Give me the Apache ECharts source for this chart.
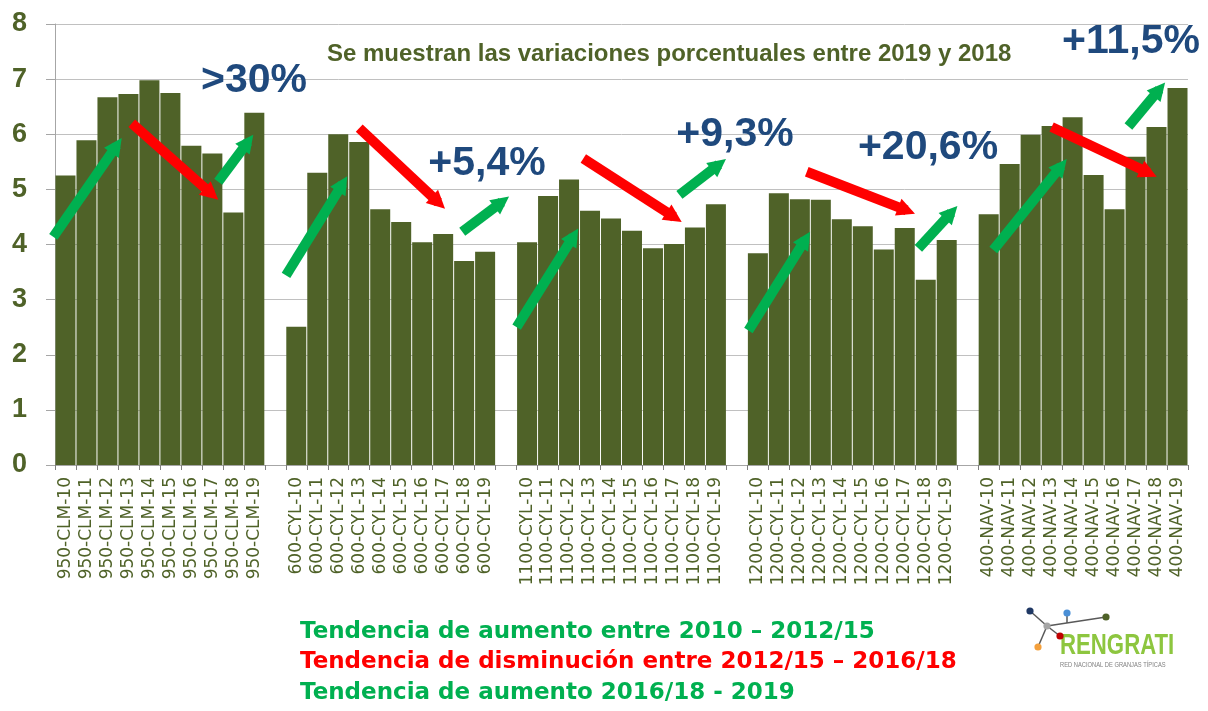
<!DOCTYPE html>
<html>
<head>
<meta charset="utf-8">
<script src="https://cdn.jsdelivr.net/npm/echarts@6.0.0/dist/echarts.min.js"></script>
<style>
  html, body { margin: 0; padding: 0; background: #fff; }
  #chart { width: 1208px; height: 711px; }
</style>
</head>
<body>
<div id="chart"></div>
<script>
// granjas y años
const groups = ['950-CLM', '600-CYL', '1100-CYL', '1200-CYL', '400-NAV'];
const years = ['10', '11', '12', '13', '14', '15', '16', '17', '18', '19'];

// valores
const clm950 = [5.25, 5.89, 6.67, 6.73, 6.98, 6.75, 5.79, 5.65, 4.58, 6.39];
const cyl600 = [2.51, 5.30, 6.00, 5.86, 4.64, 4.41, 4.04, 4.19, 3.70, 3.87];
const cyl1100 = [4.04, 4.88, 5.18, 4.61, 4.47, 4.25, 3.93, 4.01, 4.31, 4.73];
const cyl1200 = [3.84, 4.93, 4.82, 4.81, 4.46, 4.33, 3.91, 4.30, 3.36, 4.08];
const nav400 = [4.55, 5.46, 5.99, 6.15, 6.31, 5.26, 4.64, 5.59, 6.13, 6.84];

const yTicks = [0, 1, 2, 3, 4, 5, 6, 7, 8];

// flechas de tendencia: [x0, y0, x1, y1] en índice de categoría / valor
const greenArrows = [
  [-0.58, 4.14, 2.68, 5.93],
  [7.28, 5.14, 8.95, 5.99],
  [10.51, 3.44, 13.43, 5.24],
  [18.91, 4.23, 21.14, 4.87],
  [21.5, 2.5, 24.44, 4.29],
  [29.26, 4.90, 31.48, 5.55],
  [32.55, 2.44, 35.49, 4.23],
  [40.65, 3.93, 42.51, 4.70],
  [44.22, 3.90, 47.72, 5.55],
  [50.66, 6.14, 52.41, 6.94]
];
const redArrows = [
  [3.16, 6.2, 7.28, 4.81],
  [14.0, 6.11, 18.09, 4.65],
  [24.68, 5.56, 29.37, 4.41],
  [35.33, 5.32, 40.49, 4.56],
  [47.0, 6.13, 52.01, 5.23]
];

const pctLabels = ['>30%', '+5,4%', '+9,3%', '+20,6%', '+11,5%'];

// construir categorías con un hueco entre granjas
const allValues = [clm950, cyl600, cyl1100, cyl1200, nav400];
const categories = [];
const barData = [];
groups.forEach((g, gi) => {
  if (gi > 0) { categories.push(''); barData.push(null); }
  years.forEach((y, yi) => {
    categories.push(g + '-' + y);
    barData.push(allValues[gi][yi]);
  });
});
const nCat = categories.length;

// acortar el final para que la punta del triángulo quede en el extremo
function toLines(list) {
  const pxX = 1133 / nCat, pxY = 55, back = 9;
  return list.map(a => {
    const dx = (a[2] - a[0]) * pxX, dy = (a[3] - a[1]) * pxY;
    const len = Math.sqrt(dx * dx + dy * dy);
    const k = back / len;
    return { coords: [[a[0], a[1]], [a[2] - (a[2] - a[0]) * k, a[3] - (a[3] - a[1]) * k]] };
  });
}

const olive = '#4F6228';
const blue = '#1F497D';
const pctPos = [[254, 81], [487, 164], [735, 135], [928, 148], [1131, 42]];

const chart = echarts.init(document.getElementById('chart'));

const graphics = [];
pctLabels.forEach((t, i) => {
  graphics.push({
    type: 'text', x: pctPos[i][0], y: pctPos[i][1], z: 100,
    style: { text: t, fill: blue, font: 'bold 41px "Liberation Sans", Arial, sans-serif',
      align: 'center', verticalAlign: 'middle', textAlign: 'center', textVerticalAlign: 'middle' }
  });
});
graphics.push({
  type: 'text', x: 327, y: 54, z: 100,
  style: { text: 'Se muestran las variaciones porcentuales entre 2019 y 2018', fill: olive,
    font: 'bold 24px "Liberation Sans", Arial, sans-serif',
    align: 'left', verticalAlign: 'middle', textAlign: 'left', textVerticalAlign: 'middle' }
});
const legendLines = [
  ['Tendencia de aumento entre 2010 \u2013 2012/15', '#00B050', 632],
  ['Tendencia de disminución entre 2012/15 \u2013 2016/18', '#FF0000', 662.5],
  ['Tendencia de aumento 2016/18 - 2019', '#00B050', 693]
];
legendLines.forEach(l => {
  graphics.push({
    type: 'text', x: 300, y: l[2], z: 100,
    style: { text: l[0], fill: l[1], font: 'bold 23px "DejaVu Sans", sans-serif',
      align: 'left', verticalAlign: 'middle', textAlign: 'left', textVerticalAlign: 'middle' }
  });
});

// logo RENGRATI
const logoLines = [
  [1030, 611, 1047, 626], [1047, 626, 1060, 636], [1047, 626, 1038, 647],
  [1047, 626, 1106, 617], [1067, 613, 1067, 623]
];
logoLines.forEach(p => {
  graphics.push({ type: 'line', z: 100, shape: { x1: p[0], y1: p[1], x2: p[2], y2: p[3] },
    style: { stroke: '#595959', lineWidth: 1.5 } });
});
const logoDots = [
  [1030, 611, '#1F3864'], [1067, 613, '#4A8FD6'], [1106, 617, '#4F6228'],
  [1047, 626, '#A6A6A6'], [1060, 636, '#C00000'], [1038, 647, '#F4A03C']
];
logoDots.forEach(d => {
  graphics.push({ type: 'circle', z: 101, shape: { cx: d[0], cy: d[1], r: 3.6 }, style: { fill: d[2] } });
});
graphics.push({
  type: 'text', x: 1060, y: 646, z: 100, scaleX: 0.74,
  style: { text: 'RENGRATI', fill: '#8DC63F', font: 'bold 30px "Liberation Sans", Arial, sans-serif',
    align: 'left', verticalAlign: 'middle', textAlign: 'left', textVerticalAlign: 'middle' }
});
graphics.push({
  type: 'text', x: 1060, y: 665, z: 100, scaleX: 0.72,
  style: { text: 'RED NACIONAL DE GRANJAS TÍPICAS', fill: '#7F7F7F', font: '8px "Liberation Sans", Arial, sans-serif',
    align: 'left', verticalAlign: 'middle', textAlign: 'left', textVerticalAlign: 'middle' }
});

const option = {
  animation: false,
  grid: { left: 55, right: 20, top: 24, bottom: 246, containLabel: false },
  xAxis: [
    {
      type: 'category',
      data: categories,
      axisLine: { lineStyle: { color: '#A6A6A6', width: 1 } },
      axisTick: { show: true, interval: 0, length: 5, lineStyle: { color: '#7F7F7F' } },
      axisLabel: {
        interval: 0, rotate: 90, margin: 12,
        color: olive, fontSize: 17, fontFamily: '"DejaVu Sans", sans-serif'
      },
      splitLine: { show: false }
    },
    {
      type: 'value', min: -0.5, max: nCat - 0.5, show: false
    }
  ],
  yAxis: {
    type: 'value', min: yTicks[0], max: yTicks[yTicks.length - 1], interval: 1,
    axisLine: { show: true, onZero: false, lineStyle: { color: '#A6A6A6' } },
    axisTick: { show: true, length: 9, lineStyle: { color: '#A6A6A6' } },
    axisLabel: {
      margin: 28, color: olive, fontSize: 27, fontWeight: 'bold',
      fontFamily: '"Liberation Sans", Arial, sans-serif'
    },
    splitLine: { lineStyle: { color: '#C0C0C0', width: 1 } }
  },
  series: [
    {
      type: 'bar',
      data: barData,
      barWidth: 20,
      itemStyle: { color: olive },
      silent: true
    },
    {
      type: 'lines', coordinateSystem: 'cartesian2d', xAxisIndex: 1, yAxisIndex: 0,
      data: toLines(greenArrows), clip: false, z: 10,
      symbol: ['none', 'triangle'], symbolSize: [24, 18],
      lineStyle: { color: '#00B050', width: 10, opacity: 1, curveness: 0 },
      silent: true
    },
    {
      type: 'lines', coordinateSystem: 'cartesian2d', xAxisIndex: 1, yAxisIndex: 0,
      data: toLines(redArrows), clip: false, z: 10,
      symbol: ['none', 'triangle'], symbolSize: [24, 18],
      lineStyle: { color: '#FF0000', width: 10, opacity: 1, curveness: 0 },
      silent: true
    }
  ],
  graphic: graphics
};

chart.setOption(option);
</script>
</body>
</html>
